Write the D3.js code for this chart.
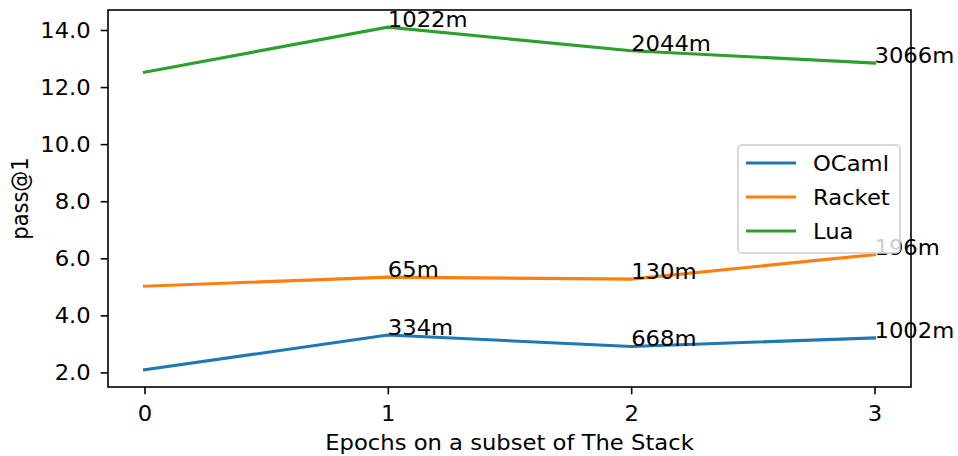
<!DOCTYPE html>
<html>
<head>
<meta charset="utf-8">
<script src="https://cdn.jsdelivr.net/npm/d3@7"></script>
<style>
  body { margin: 0; background: #fff; }
  text { font-family: "DejaVu Sans", sans-serif; }
</style>
</head>
<body>
<div id="chart"></div>
<script>
const epochs = [0, 1, 2, 3];
const ocaml = [2.09, 3.31, 2.91, 3.21];
const racket = [5.02, 5.34, 5.27, 6.13];
const lua = [12.52, 14.10, 13.27, 12.84];
const ocamlLabels = ['', '334m', '668m', '1002m'];
const racketLabels = ['', '65m', '130m', '196m'];
const luaLabels = ['', '1022m', '2044m', '3066m'];
const seriesNames = ['OCaml', 'Racket', 'Lua'];
const colors = ['#1f77b4', '#ff7f0e', '#2ca02c'];
const yTicks = [2, 4, 6, 8, 10, 12, 14];

const w = 958;
const h = 456;
const padLeft = 108, padRight = 911, padTop = 10, padBottom = 387;
const fontSize = 21;
const sx = 1.08; // the glyphs in the picture are a bit wider than tall

const series = [
  { name: seriesNames[0], values: ocaml, labels: ocamlLabels, color: colors[0] },
  { name: seriesNames[1], values: racket, labels: racketLabels, color: colors[1] },
  { name: seriesNames[2], values: lua, labels: luaLabels, color: colors[2] }
];

const svg = d3.select('#chart').append('svg')
  .attr('width', w)
  .attr('height', h);

// put a text at (x, y) with the wider glyphs
function addText(parent, x, y, str) {
  return parent.append('text')
    .attr('transform', 'translate(' + x + ',' + y + ') scale(' + sx + ',1)')
    .attr('font-size', fontSize)
    .attr('fill', '#000')
    .text(str);
}

// matplotlib style 5% margins
const allVals = ocaml.concat(racket, lua);
const yMin = d3.min(allVals), yMax = d3.max(allVals);
const yPad = (yMax - yMin) * 0.05;
const xPad = (d3.max(epochs) - d3.min(epochs)) * 0.05;

const xScale = d3.scaleLinear()
  .domain([d3.min(epochs) - xPad, d3.max(epochs) + xPad])
  .range([padLeft, padRight]);
const yScale = d3.scaleLinear()
  .domain([yMin - yPad, yMax + yPad])
  .range([padBottom, padTop]);

const line = d3.line()
  .x((d, i) => xScale(epochs[i]))
  .y(d => yScale(d));

series.forEach(s => {
  svg.append('path')
    .attr('d', line(s.values))
    .attr('fill', 'none')
    .attr('stroke', s.color)
    .attr('stroke-width', 3.1)
    .attr('stroke-linecap', 'square');
});

// axes
const xAxis = d3.axisBottom(xScale)
  .tickValues(epochs)
  .tickFormat(d3.format('d'))
  .tickSize(7.3)
  .tickPadding(12);
const yAxis = d3.axisLeft(yScale)
  .tickValues(yTicks)
  .tickFormat(d3.format('.1f'))
  .tickSize(7.3)
  .tickPadding(9);

const gx = svg.append('g')
  .attr('transform', 'translate(0,' + padBottom + ')')
  .call(xAxis);
const gy = svg.append('g')
  .attr('transform', 'translate(' + padLeft + ',0)')
  .call(yAxis);

[gx, gy].forEach(g => {
  g.select('.domain').remove();
  g.selectAll('.tick line').attr('stroke', '#000').attr('stroke-width', 1.6);
  g.selectAll('.tick text')
    .attr('fill', '#000')
    .attr('transform', 'scale(' + sx + ',1)')
    .style('font-family', '"DejaVu Sans", sans-serif')
    .style('font-size', fontSize + 'px');
});
gy.selectAll('.tick text')
  .attr('x', -(7.3 + 10) / sx)
  .attr('dy', '0.36em');

// frame
svg.append('rect')
  .attr('x', padLeft)
  .attr('y', padTop)
  .attr('width', padRight - padLeft)
  .attr('height', padBottom - padTop)
  .attr('fill', 'none')
  .attr('stroke', '#000')
  .attr('stroke-width', 1.6);

// annotations
series.forEach(s => {
  const g = svg.append('g');
  s.values.forEach((v, i) => {
    addText(g, xScale(epochs[i]), yScale(v), s.labels[i]);
  });
});

// axis titles
addText(svg, (padLeft + padRight) / 2, 450, 'Epochs on a subset of The Stack')
  .attr('text-anchor', 'middle');
svg.append('text')
  .attr('transform', 'translate(28,' + ((padTop + padBottom) / 2) + ') rotate(-90) scale(1,' + sx + ')')
  .attr('text-anchor', 'middle')
  .attr('font-size', fontSize)
  .text('pass@1');

// legend
const legend = svg.append('g').attr('transform', 'translate(738,145)');
legend.append('rect')
  .attr('width', 162)
  .attr('height', 108)
  .attr('rx', 4)
  .attr('fill', 'rgba(255,255,255,0.8)')
  .attr('stroke', '#cccccc')
  .attr('stroke-width', 1.5);
series.forEach((s, i) => {
  const yRow = 18 + i * 34;
  legend.append('line')
    .attr('x1', 8).attr('x2', 58)
    .attr('y1', yRow).attr('y2', yRow)
    .attr('stroke', s.color)
    .attr('stroke-width', 3.1);
  addText(legend, 75, yRow, s.name).attr('dy', '0.36em');
});
</script>
</body>
</html>
